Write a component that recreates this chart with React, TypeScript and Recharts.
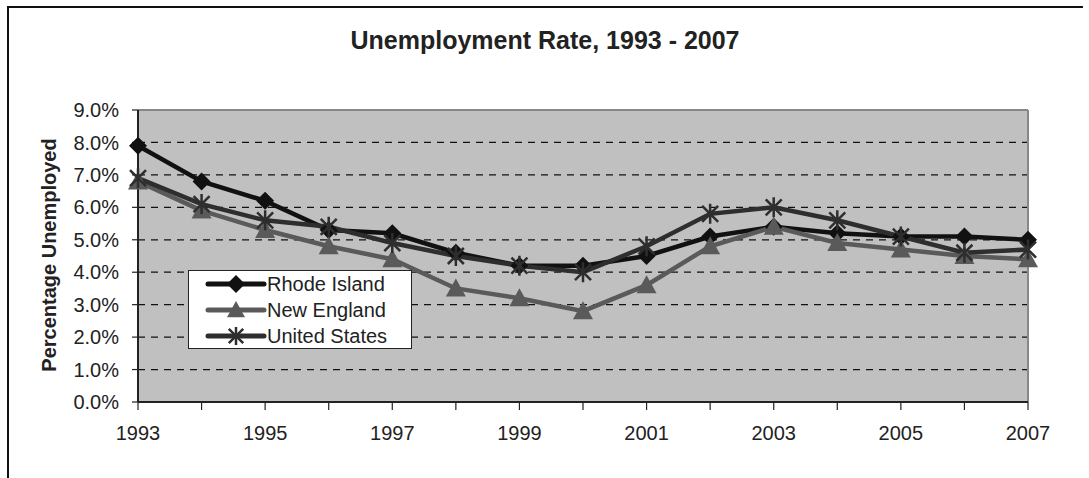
import { LineChart, Line, XAxis, YAxis, CartesianGrid, ReferenceLine } from "recharts";

const years = [1993, 1994, 1995, 1996, 1997, 1998, 1999, 2000, 2001, 2002, 2003, 2004, 2005, 2006, 2007];
const rhodeIsland = [7.9, 6.8, 6.2, 5.3, 5.2, 4.6, 4.2, 4.2, 4.5, 5.1, 5.4, 5.2, 5.1, 5.1, 5.0];
const newEngland = [6.8, 5.9, 5.3, 4.8, 4.4, 3.5, 3.2, 2.8, 3.6, 4.8, 5.4, 4.9, 4.7, 4.5, 4.4];
const unitedStates = [6.9, 6.1, 5.6, 5.4, 4.9, 4.5, 4.2, 4.0, 4.8, 5.8, 6.0, 5.6, 5.1, 4.6, 4.7];
const yTicks = [0, 1, 2, 3, 4, 5, 6, 7, 8, 9];

const data = years.map((year, i) => ({
  year,
  ri: rhodeIsland[i],
  ne: newEngland[i],
  us: unitedStates[i],
}));

const FONT = '"Liberation Sans", Arial, sans-serif';
const RI_COLOR = "#111111";
const NE_COLOR = "#5a5a5a";
const US_COLOR = "#2e2e2e";

interface DotProps {
  cx?: number;
  cy?: number;
  index?: number;
}

function diamond(cx: number, cy: number, r: number, color: string, key?: string | number) {
  return <path key={key} d={`M${cx},${cy - r}L${cx + r},${cy}L${cx},${cy + r}L${cx - r},${cy}Z`} fill={color} />;
}

function triangle(cx: number, cy: number, r: number, color: string, key?: string | number) {
  return <path key={key} d={`M${cx},${cy - r}L${cx + r},${cy + r * 0.8}L${cx - r},${cy + r * 0.8}Z`} fill={color} />;
}

function asterisk(cx: number, cy: number, r: number, color: string, key?: string | number) {
  const d = r * 0.8;
  return (
    <path
      key={key}
      d={`M${cx},${cy - r}L${cx},${cy + r}M${cx - d},${cy - d}L${cx + d},${cy + d}M${cx - d},${cy + d}L${cx + d},${cy - d}`}
      stroke={color}
      strokeWidth={2.5}
      fill="none"
    />
  );
}

const DiamondDot = (p: DotProps) => diamond(p.cx ?? 0, p.cy ?? 0, 9, RI_COLOR, `d${p.index}`);
const TriangleDot = (p: DotProps) => triangle(p.cx ?? 0, p.cy ?? 0, 10, NE_COLOR, `t${p.index}`);
const AsteriskDot = (p: DotProps) => asterisk(p.cx ?? 0, p.cy ?? 0, 10, US_COLOR, `a${p.index}`);

const legendItems = [
  { name: "Rhode Island", color: RI_COLOR, marker: diamond },
  { name: "New England", color: NE_COLOR, marker: triangle },
  { name: "United States", color: US_COLOR, marker: asterisk },
];

function BoxLegend() {
  return (
    <div
      style={{
        position: "absolute",
        left: 188,
        top: 270,
        width: 222,
        height: 77,
        background: "#fff",
        border: "1.5px solid #222",
        fontFamily: FONT,
        fontSize: 20,
        color: "#222",
        boxSizing: "content-box",
      }}
    >
      {legendItems.map((item) => (
        <div key={item.name} style={{ display: "flex", alignItems: "center", height: 26 }}>
          <svg width={78} height={26} style={{ flex: "none" }}>
            <line x1={19} y1={13} x2={75} y2={13} stroke={item.color} strokeWidth={5} strokeLinecap="round" />
            {item.marker(47, 13, 9, item.color)}
          </svg>
          <span style={{ lineHeight: "26px" }}>{item.name}</span>
        </div>
      ))}
    </div>
  );
}

export default function App() {
  return (
    <div style={{ position: "absolute", left: 0, top: 0, width: 1089, height: 478, background: "#fff", overflow: "hidden" }}>
      <div
        style={{
          position: "absolute",
          left: 7,
          top: 6,
          width: 1076,
          height: 500,
          borderTop: "2px solid #111",
          borderLeft: "2px solid #111",
          boxSizing: "border-box",
        }}
      />
      <div
        style={{
          position: "absolute",
          left: 7,
          width: 1076,
          top: 26,
          textAlign: "center",
          fontFamily: FONT,
          fontWeight: "bold",
          fontSize: 25,
          color: "#222",
        }}
      >
        Unemployment Rate, 1993 - 2007
      </div>
      <div style={{ position: "absolute", left: 0, top: 0 }}>
        <LineChart width={1089} height={478} data={data} margin={{ top: 110, right: 61, bottom: 46, left: 78 }}>
          <CartesianGrid
            horizontal
            vertical={false}
            fill="#c0c0c0"
            stroke="#111"
            strokeDasharray="7 6"
            strokeWidth={1.2}
          />
          <XAxis
            dataKey="year"
            type="number"
            domain={[1993, 2007]}
            ticks={years}
            interval={0}
            tickFormatter={(v: number) => (v % 2 === 1 ? String(v) : "")}
            tick={{ fill: "#222", fontSize: 20, fontFamily: FONT }}
            tickSize={8}
            tickMargin={16}
            height={30}
            axisLine={{ stroke: "#222", strokeWidth: 2 }}
            tickLine={{ stroke: "#222", strokeWidth: 1.2 }}
          />
          <YAxis
            type="number"
            domain={[0, 9]}
            ticks={yTicks}
            interval={0}
            tickFormatter={(v: number) => `${v.toFixed(1)}%`}
            tick={{ fill: "#222", fontSize: 20, fontFamily: FONT }}
            tickSize={6}
            tickMargin={13}
            width={60}
            axisLine={{ stroke: "#222", strokeWidth: 2 }}
            tickLine={{ stroke: "#222", strokeWidth: 1.2 }}
            label={{
              content: () => (
                <text
                  transform="translate(56,255) rotate(-90)"
                  textAnchor="middle"
                  fontFamily={FONT}
                  fontWeight="bold"
                  fontSize={20}
                  fill="#222"
                >
                  Percentage Unemployed
                </text>
              ),
            }}
          />
          <ReferenceLine y={9} stroke="#888" strokeWidth={2} />
          <ReferenceLine x={2007} stroke="#888" strokeWidth={2} />
          <Line
            type="linear"
            dataKey="ri"
            name="Rhode Island"
            stroke={RI_COLOR}
            strokeWidth={4.5}
            dot={DiamondDot}
            activeDot={false}
            isAnimationActive={false}
          />
          <Line
            type="linear"
            dataKey="ne"
            name="New England"
            stroke={NE_COLOR}
            strokeWidth={4.5}
            dot={TriangleDot}
            activeDot={false}
            isAnimationActive={false}
          />
          <Line
            type="linear"
            dataKey="us"
            name="United States"
            stroke={US_COLOR}
            strokeWidth={4.5}
            dot={AsteriskDot}
            activeDot={false}
            isAnimationActive={false}
          />
        </LineChart>
      </div>
      <BoxLegend />
    </div>
  );
}
